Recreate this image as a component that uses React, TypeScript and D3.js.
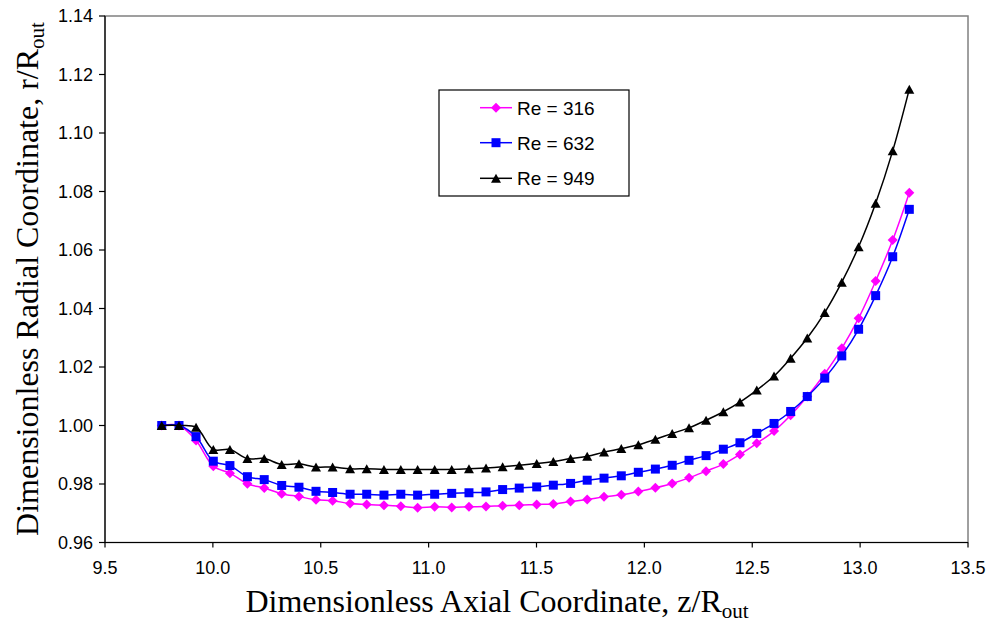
import React from "react";
import * as d3 from "d3";

const zValues = [
  9.763, 9.843, 9.922, 10.002, 10.079, 10.16, 10.238, 10.319, 10.399, 10.478,
  10.555, 10.636, 10.713, 10.793, 10.871, 10.949, 11.028, 11.107, 11.187, 11.266,
  11.343, 11.42, 11.501, 11.578, 11.658, 11.735, 11.813, 11.893, 11.972, 12.051,
  12.129, 12.207, 12.286, 12.366, 12.443, 12.521, 12.601, 12.678, 12.755, 12.836,
  12.915, 12.993, 13.072, 13.151, 13.228,
];

const re316 = [
  1.0, 1.0, 0.9949, 0.9861, 0.9837, 0.9801, 0.9786, 0.9767, 0.9757, 0.9746,
  0.9743, 0.9733, 0.973, 0.9727, 0.9724, 0.9719, 0.9722, 0.972, 0.9722, 0.9723,
  0.9726, 0.9727, 0.973, 0.9732, 0.974, 0.9747, 0.9756, 0.9763, 0.9774, 0.9787,
  0.9802, 0.9821, 0.9844, 0.9868, 0.9901, 0.9939, 0.9981, 1.0035, 1.0099, 1.0177,
  1.0264, 1.0367, 1.0494, 1.0634, 1.0796,
];

const re632 = [
  1.0, 1.0, 0.9962, 0.9878, 0.9863, 0.9825, 0.9815, 0.9795, 0.9789, 0.9775,
  0.9771, 0.9765, 0.9765, 0.9762, 0.9765, 0.9762, 0.9765, 0.9768, 0.977, 0.9773,
  0.9781, 0.9786, 0.979, 0.9796, 0.9802, 0.9813, 0.982, 0.9828, 0.984, 0.9851,
  0.9864, 0.9881, 0.9897, 0.9919, 0.9941, 0.9973, 1.0007, 1.0048, 1.0099, 1.0162,
  1.0238, 1.0329, 1.0444, 1.0577, 1.0739,
];

const re949 = [
  1.0, 1.0, 0.9994, 0.9918, 0.9918, 0.9887, 0.9887, 0.9867, 0.9869, 0.9858,
  0.9858, 0.9852, 0.9852, 0.985, 0.985, 0.985, 0.985, 0.985, 0.9852, 0.9855,
  0.9859, 0.9864, 0.987, 0.9877, 0.9887, 0.9895, 0.9909, 0.9921, 0.9934, 0.9953,
  0.9973, 0.9992, 1.0018, 1.0047, 1.008, 1.0121, 1.0169, 1.023, 1.0299, 1.0386,
  1.049, 1.0611, 1.076, 1.0939, 1.115,
];

const seriesNames = ["Re = 316", "Re = 632", "Re = 949"];
const seriesColors = ["#FF00FF", "#0000FF", "#000000"];
const seriesMarkers = ["diamond", "square", "triangle"];
const seriesValues = [re316, re632, re949];

const xTicks = [9.5, 10.0, 10.5, 11.0, 11.5, 12.0, 12.5, 13.0, 13.5];
const yTicks = [0.96, 0.98, 1.0, 1.02, 1.04, 1.06, 1.08, 1.1, 1.12, 1.14];

const W = 992;
const H = 623;
const plot = { left: 105, right: 968, top: 16, bottom: 542.5 };

function Marker({ kind, x, y, color }: { kind: string; x: number; y: number; color: string }) {
  if (kind === "diamond") {
    const r = 5;
    return (
      <path
        d={`M${x},${y - r}L${x + r},${y}L${x},${y + r}L${x - r},${y}Z`}
        fill={color}
      />
    );
  }
  if (kind === "square") {
    const s = 4.5;
    return <rect x={x - s} y={y - s} width={2 * s} height={2 * s} fill={color} />;
  }
  const h = 9;
  const w = 10;
  return (
    <path
      d={`M${x},${y - h / 2}L${x + w / 2},${y + h / 2}L${x - w / 2},${y + h / 2}Z`}
      fill={color}
    />
  );
}

export default function App() {
  const x = d3.scaleLinear().domain([9.5, 13.5]).range([plot.left, plot.right]);
  const y = d3.scaleLinear().domain([0.96, 1.14]).range([plot.bottom, plot.top]);

  const line = d3
    .line<[number, number]>()
    .x((d) => x(d[0]))
    .y((d) => y(d[1]))
    .curve(d3.curveCatmullRom.alpha(0.5));

  const sans = "Arial, 'Liberation Sans', sans-serif";
  const serif = "'Times New Roman', 'Liberation Serif', serif";

  const legend = { left: 439, top: 90, right: 629, bottom: 196 };
  const legendRows = [107.7, 142.7, 178.3];

  return (
    <svg
      width={W}
      height={H}
      style={{ position: "absolute", left: 0, top: 0, background: "#fff" }}
    >
      <rect x={0} y={0} width={W} height={H} fill="#fff" />
      {/* plot area border */}
      <rect
        x={plot.left}
        y={plot.top}
        width={plot.right - plot.left}
        height={plot.bottom - plot.top}
        fill="none"
        stroke="#808080"
        strokeWidth={1.5}
      />
      {/* axes */}
      <line x1={plot.left} x2={plot.left} y1={plot.top} y2={plot.bottom} stroke="#000" strokeWidth={1.2} />
      <line x1={plot.left} x2={plot.right} y1={plot.bottom} y2={plot.bottom} stroke="#000" strokeWidth={1.2} />
      {yTicks.map((t) => (
        <g key={`y${t}`}>
          <line x1={plot.left - 6} x2={plot.left} y1={y(t)} y2={y(t)} stroke="#000" strokeWidth={1.2} />
          <text
            x={93}
            y={y(t)}
            dy="0.36em"
            textAnchor="end"
            fontFamily={sans}
            fontSize={18}
            fill="#000"
          >
            {d3.format(".2f")(t)}
          </text>
        </g>
      ))}
      {xTicks.map((t) => (
        <g key={`x${t}`}>
          <line x1={x(t)} x2={x(t)} y1={plot.bottom} y2={plot.bottom + 5} stroke="#000" strokeWidth={1.2} />
          <text
            x={x(t)}
            y={574}
            textAnchor="middle"
            fontFamily={sans}
            fontSize={18}
            fill="#000"
          >
            {d3.format(".1f")(t)}
          </text>
        </g>
      ))}
      {/* series */}
      {seriesValues.map((vals, i) => {
        const pts: [number, number][] = zValues.map((z, j) => [z, vals[j]]);
        return (
          <g key={seriesNames[i]}>
            <path d={line(pts) || ""} fill="none" stroke={seriesColors[i]} strokeWidth={1.5} />
            {pts.map((p, j) => (
              <Marker key={j} kind={seriesMarkers[i]} x={x(p[0])} y={y(p[1])} color={seriesColors[i]} />
            ))}
          </g>
        );
      })}
      {/* legend */}
      <rect
        x={legend.left}
        y={legend.top}
        width={legend.right - legend.left}
        height={legend.bottom - legend.top}
        fill="#fff"
        stroke="#000"
        strokeWidth={1.2}
      />
      {seriesNames.map((name, i) => (
        <g key={`lg${name}`}>
          <line x1={480} x2={512} y1={legendRows[i]} y2={legendRows[i]} stroke={seriesColors[i]} strokeWidth={1.5} />
          <Marker kind={seriesMarkers[i]} x={496} y={legendRows[i]} color={seriesColors[i]} />
          <text x={517} y={legendRows[i]} dy="0.36em" fontFamily={sans} fontSize={19} fill="#000">
            {name}
          </text>
        </g>
      ))}
      {/* axis titles */}
      <text x={497} y={612} textAnchor="middle" fontFamily={serif} fontSize={32} fill="#000">
        Dimensionless Axial Coordinate, z/R
        <tspan fontSize={21} dy={6}>out</tspan>
      </text>
      <text
        transform={`translate(38,${279}) rotate(-90)`}
        textAnchor="middle"
        fontFamily={serif}
        fontSize={32}
        fill="#000"
      >
        Dimensionless Radial Coordinate, r/R
        <tspan fontSize={21} dy={6}>out</tspan>
      </text>
    </svg>
  );
}
